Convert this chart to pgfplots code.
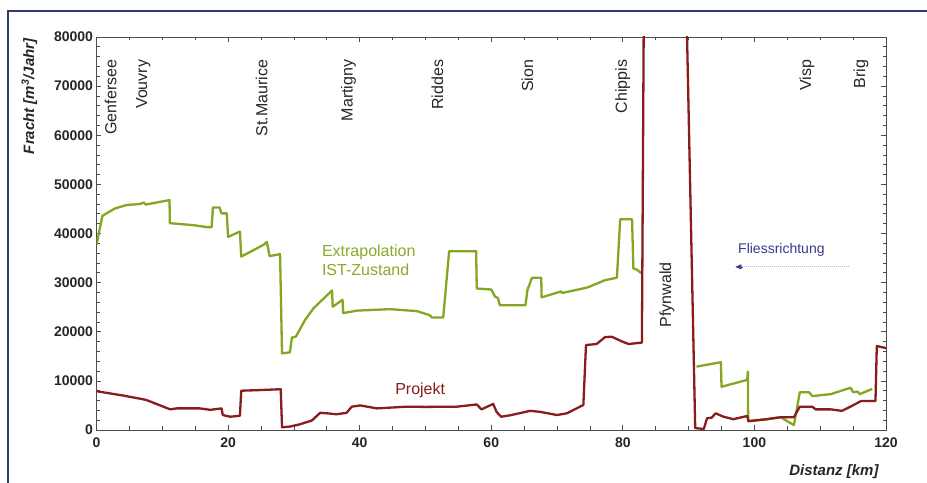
\documentclass[border=0pt]{standalone}
\usepackage{pgfplots}
\pgfplotsset{compat=1.18}
\usepackage{fontspec}
\setmainfont{Liberation Sans}
\usetikzlibrary{arrows.meta}
\definecolor{grn}{HTML}{83A623}
\definecolor{grntxt}{HTML}{8AAA2A}
\definecolor{rd}{HTML}{8A1C1C}
\definecolor{frm}{HTML}{2E3D6E}
\definecolor{flow}{HTML}{3A3A8C}
\begin{document}
\begin{tikzpicture}
\path[use as bounding box] (0,0) rectangle (927bp,483bp);
\fill[white] (0,0) rectangle (927bp,483bp);
\draw[frm, line width=2.8bp] (8bp,0) -- (8bp,472bp) -- (927bp,472bp);
\begin{axis}[
 at={(96.5bp,53bp)}, anchor=south west,
 width=789.5bp, height=393bp, scale only axis,
 xmin=0, xmax=120, ymin=0, ymax=80000,
 xtick={0,20,...,120}, ytick={0,10000,...,80000},
 minor x tick num=3, minor y tick num=4,
 tick align=inside,
 major tick length=5bp, minor tick length=3.5bp,
 axis line style={draw=black!70, line width=0.9bp},
 every tick/.style={black!70, line width=0.7bp},
 scaled ticks=false,
 /pgf/number format/set thousands separator={},
 /pgf/number format/assume math mode=true,
 tick label style={font=\fontsize{14bp}{16bp}\selectfont\bfseries, text=black!85},
 xticklabel style={yshift=-4bp},
 clip mode=individual,
 xlabel={Distanz [km]},
 ylabel={Fracht [m\textsuperscript{3}/Jahr]},
 label style={font=\fontsize{15bp}{18bp}\selectfont\bfseries\itshape, text=black!85},
 xlabel style={at={(axis description cs:0.995,-0.1145)}, anchor=base east},
 ylabel style={at={(axis description cs:-0.0849,1.005)}, anchor=east},
]
% Extrapolation IST-Zustand (green)
\addplot[grn, line width=2.3bp, line join=round] coordinates {
(0,37700) (0.9,43600) (2.8,45100) (4.6,45800) (6.6,46000) (7.2,46300) (7.5,45900)
(11.1,46800) (11.15,42100) (14.7,41700) (16.8,41300) (17.5,41300) (17.7,45300)
(18.7,45300) (19.0,44100) (19.8,44100) (20.0,39300) (21.8,40400) (22.0,35300)
(25.4,37700) (25.9,38300) (26.3,35400) (27.9,35800) (28.2,15600) (29.4,15800)
(29.7,18800) (30.3,19000) (31.7,22400) (33.0,24800) (35.8,28400) (35.9,25100)
(37.4,26500) (37.5,23800) (39.6,24300) (44.6,24600) (48.7,24200) (50.6,23400)
(51.0,22900) (52.7,22900) (53.6,36400) (57.7,36400) (57.8,28800) (60.0,28600)
(60.6,27100) (61.0,26900) (61.3,25400) (65.2,25400) (65.5,28500) (66.2,31000)
(67.6,31000) (67.65,27000) (70.6,28200) (70.8,27900) (74.6,29000) (77.3,30500)
(79.1,31000) (79.6,42900) (81.4,42900) (81.6,32900) (82.2,32600) (82.8,31900)
};
\addplot[grn, line width=2.3bp, line join=round] coordinates {
(91.2,12900) (94.9,13800) (95.0,8800) (98.9,10200) (99.0,11900) (99.05,1800)
(101.9,2200) (104.0,2600) (106.0,1000) (106.9,7700) (108.3,7700) (108.8,6900)
(111.6,7300) (114.6,8600) (115.0,7700) (115.7,7800) (116.0,7300) (117.9,8350)
};
% Projekt (red)
\addplot[rd, line width=2.3bp, line join=round] coordinates {
(0,7900) (4.1,7000) (6.9,6300) (7.6,6100) (11.2,4200) (12.2,4400) (15.7,4400)
(17.3,4100) (19.0,4400) (19.2,3050) (20.3,2700) (21.8,2900) (22.0,8000)
(24.3,8100) (28.0,8300) (28.2,550) (29.4,700) (30.9,1150) (31.7,1500) (32.7,1900)
(34.0,3500) (35.0,3400) (36.5,3200) (38.0,3500) (38.8,4750) (40.1,5000)
(42.6,4400) (47.2,4750) (50.0,4700) (54.8,4750) (57.8,5200) (58.5,4200)
(60.3,5300) (60.8,3700) (61.5,2700) (62.9,3000) (65.9,3900) (67.4,3700)
(70.0,3050) (71.5,3400) (74.0,5100) (74.4,17300) (76.0,17500) (77.3,18900)
(78.3,19000) (79.9,18000) (80.9,17500) (82.9,17800) (83.25,100000)
(89.45,100000) (91.0,400) (92.3,200) (92.8,2400) (93.5,2500) (94.1,3400)
(95.3,2700) (96.8,2200) (98.9,2850) (99.1,1800) (101.9,2200) (104.0,2600)
(106.0,2600) (106.9,4750) (108.8,4750) (109.3,4200) (111.6,4200) (113.3,3900)
(114.6,4750) (116.2,5900) (118.4,5900) (118.6,17100) (119.9,16700) (120,16600)
};
% place names
\begin{scope}[every node/.style={rotate=90, anchor=east, inner sep=0pt, text=black!85, font=\fontsize{16bp}{19bp}\selectfont}]
\node at (axis cs:2.16,75400) {Genfersee};
\node at (axis cs:7.1,75400) {Vouvry};
\node at (axis cs:25.1,75400) {St.Maurice};
\node at (axis cs:38.3,75400) {Martigny};
\node at (axis cs:51.8,75400) {Riddes};
\node at (axis cs:65.5,75400) {Sion};
\node at (axis cs:80.0,75400) {Chippis};
\node at (axis cs:108.0,75400) {Visp};
\node at (axis cs:116.2,75400) {Brig};
\end{scope}
\node[rotate=90, inner sep=0pt, text=black!85, font=\fontsize{16bp}{19bp}\selectfont] at (axis cs:86.7,27500) {Pfynwald};
% annotations
\node[anchor=base west, inner sep=0pt, text=grntxt, font=\fontsize{16bp}{19bp}\selectfont] at (axis cs:34.25,35300) {Extrapolation};
\node[anchor=base west, inner sep=0pt, text=grntxt, font=\fontsize{16bp}{19bp}\selectfont] at (axis cs:34.25,31550) {IST-Zustand};
\node[anchor=base, inner sep=0pt, text=rd, font=\fontsize{16bp}{19bp}\selectfont] at (axis cs:49.2,7300) {Projekt};
\node[anchor=base, inner sep=0pt, text=flow, font=\fontsize{14bp}{17bp}\selectfont] at (axis cs:104.1,36000) {Fliessrichtung};
\draw[flow!35, densely dotted, line width=1bp] (axis cs:114.3,33200) -- (axis cs:98,33200);
\draw[flow, -{Triangle[length=6bp,width=5bp]}] (axis cs:98.2,33200) -- (axis cs:97.1,33200);
\end{axis}
\end{tikzpicture}
\end{document}
